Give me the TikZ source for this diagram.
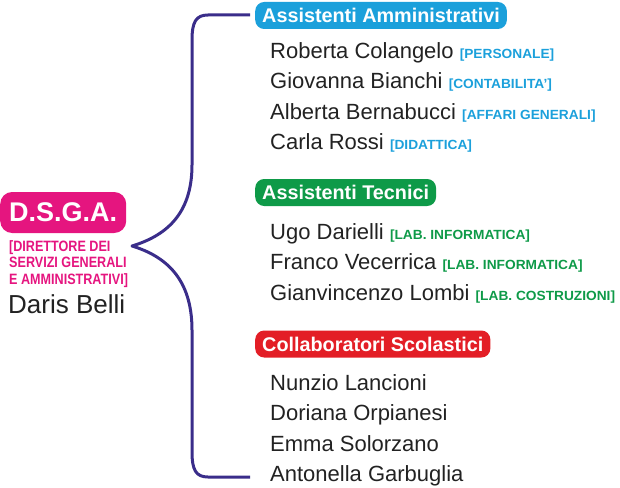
\documentclass[tikz,border=0pt]{standalone}
\usepackage{fontspec}
\setmainfont{Liberation Sans}
\usepackage{graphicx}
\definecolor{cblue}{HTML}{1BA0DB}
\definecolor{cgreen}{HTML}{0E9A48}
\definecolor{cred}{HTML}{E31E26}
\definecolor{cpink}{HTML}{E5157F}
\definecolor{cbrace}{HTML}{3A2D8A}
\definecolor{cname}{HTML}{222222}
\newcommand{\tagtxt}[2]{{\color{#1}\fontsize{14}{14}\selectfont\bfseries\scalebox{0.98}[0.95]{#2}}}
\begin{document}
\begin{tikzpicture}[x=1pt,y=-1pt,
  badge/.style={rounded corners=9pt, text=white, font=\fontsize{19.8}{20}\selectfont\bfseries,
    inner xsep=7pt, inner ysep=0pt, minimum height=27pt, anchor=west},
  person/.style={text=cname, font=\fontsize{22}{22}\selectfont, anchor=base west, inner sep=0pt},
  brace/.style={draw=cbrace, line width=3pt, line join=round}]
\useasboundingbox (0,0) rectangle (620,487);

% left head
\node[badge, fill=cpink, minimum height=41pt, font=\fontsize{27}{27}\selectfont\bfseries, inner xsep=9pt, rounded corners=12pt] (dsga) at (0,212.5) {D.S.G.A.};
\node[anchor=north west, inner sep=0pt, text=cpink, align=left,
  font=\fontsize{15}{16.7}\selectfont\bfseries] (dir) at (9,240)
  {\scalebox{0.84}[1]{[DIRETTORE DEI}\\\scalebox{0.84}[1]{SERVIZI GENERALI}\\\scalebox{0.84}[1]{E AMMINISTRATIVI]}};
\node[person, font=\fontsize{26}{26}\selectfont] (dsganame) at (8,313) {Daris Belli};

% headers
\node[badge, fill=cblue] (h1) at (255,15.5) {Assistenti Amministrativi};
\node[badge, fill=cgreen] (h2) at (255,192.5) {Assistenti Tecnici};
\node[badge, fill=cred] (h3) at (255,344) {Collaboratori Scolastici};

% blue group
\node[person] (a1) at (270,58) {Roberta Colangelo \tagtxt{cblue}{[PERSONALE]}};
\node[person] (a2) at (270,88.5) {Giovanna Bianchi \tagtxt{cblue}{[CONTABILITA']}};
\node[person] (a3) at (270,119) {Alberta Bernabucci \tagtxt{cblue}{[AFFARI GENERALI]}};
\node[person] (a4) at (270,149.5) {Carla Rossi \tagtxt{cblue}{[DIDATTICA]}};

% green group
\node[person] (t1) at (270,239) {Ugo Darielli \tagtxt{cgreen}{[LAB. INFORMATICA]}};
\node[person] (t2) at (270,269.5) {Franco Vecerrica \tagtxt{cgreen}{[LAB. INFORMATICA]}};
\node[person] (t3) at (270,300) {Gianvincenzo Lombi \tagtxt{cgreen}{[LAB. COSTRUZIONI]}};

% red group
\node[person] (c1) at (270,390) {Nunzio Lancioni};
\node[person] (c2) at (270,420.5) {Doriana Orpianesi};
\node[person] (c3) at (270,451) {Emma Solorzano};
\node[person] (c4) at (270,481.5) {Antonella Garbuglia};

% brace
\coordinate (btop) at (250,15);
\coordinate (bbot) at (250,477);
\coordinate (btip) at (132,246);
\draw[brace] (btop) -- (208,15) .. controls (196,15) and (192,22) .. (192,40)
  -- (192,165) .. controls (192,215) and (165,236) .. (btip)
  .. controls (165,256) and (192,278) .. (192,330)
  -- (192,452) .. controls (192,470) and (196,477) .. (208,477) -- (bbot);
\end{tikzpicture}
\end{document}
